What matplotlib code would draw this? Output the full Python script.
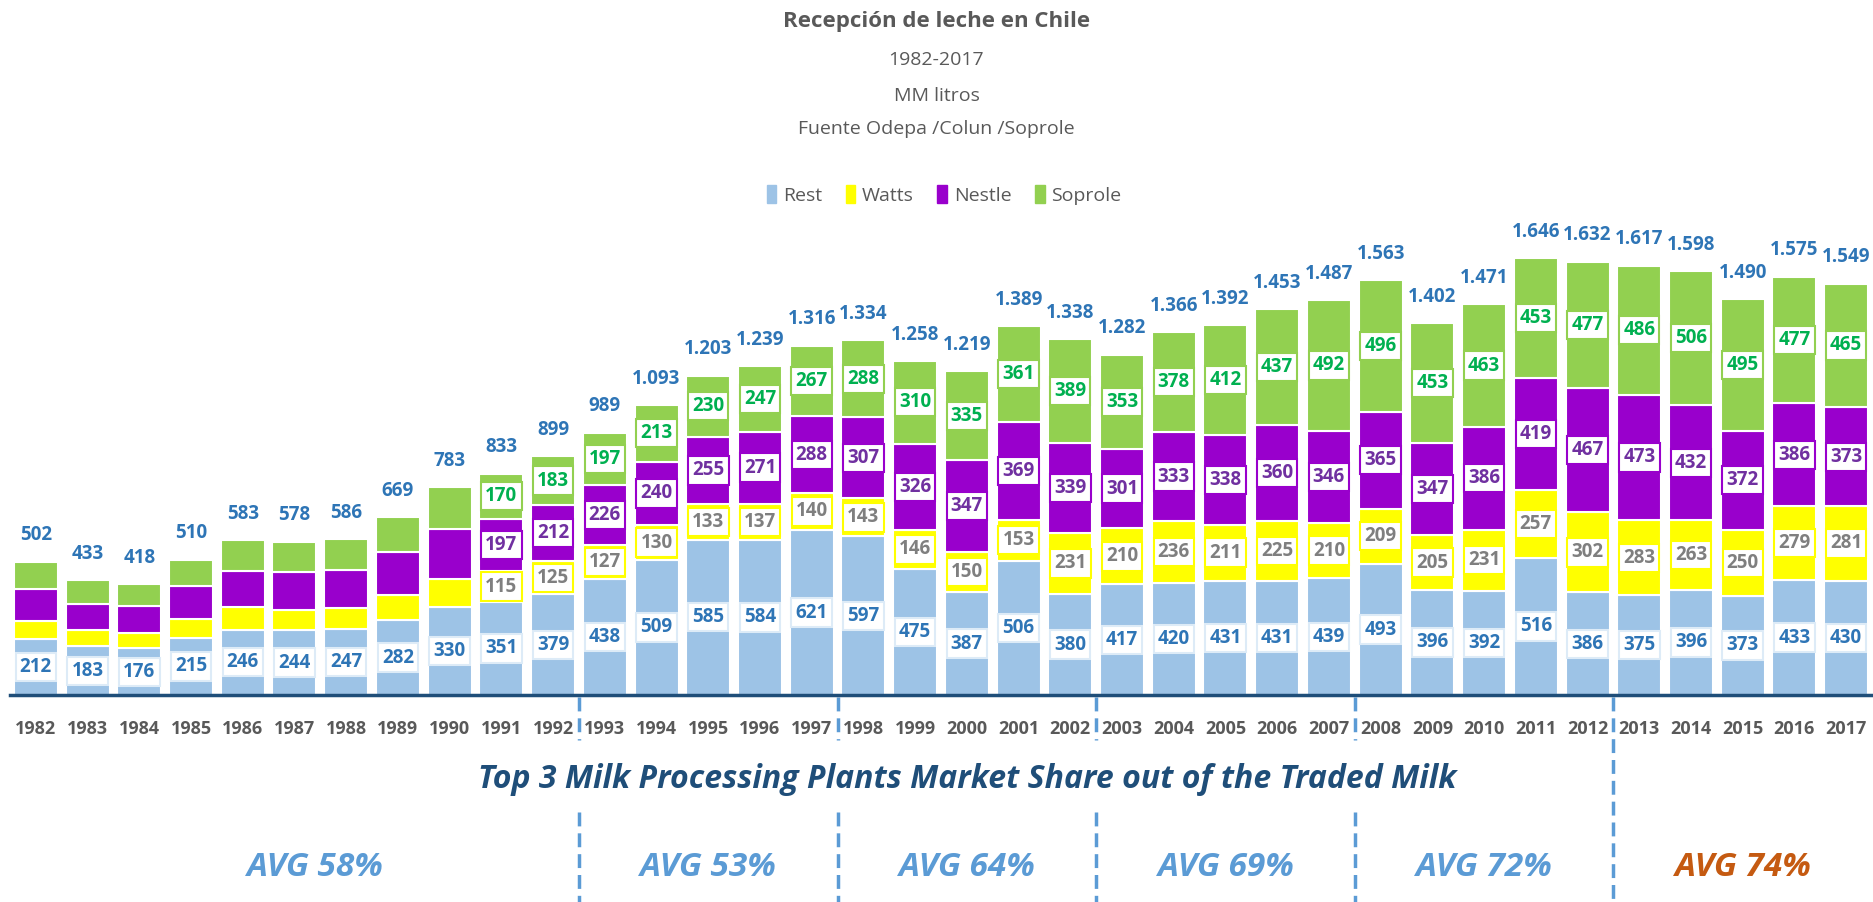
import matplotlib
matplotlib.use("Agg")
import matplotlib.pyplot as plt
from matplotlib.patches import Patch
from matplotlib.transforms import blended_transform_factory

plt.rcParams['font.family'] = ['Open Sans', 'DejaVu Sans']

years = [str(y) for y in range(1982, 2018)]

# MM litros
rest = [212, 183, 176, 215, 246, 244, 247, 282, 330, 351, 379,
        438, 509, 585, 584, 621, 597, 475, 387, 506, 380,
        417, 420, 431, 431, 439, 493, 396, 392, 516, 386,
        375, 396, 373, 433, 430]
watts = [68, 63, 58, 73, 84, 77, 82, 94, 108, 115, 125,
         127, 130, 133, 137, 140, 143, 146, 150, 153, 231,
         210, 236, 211, 225, 210, 209, 205, 231, 257, 302,
         283, 263, 250, 279, 281]
nestle = [120, 98, 100, 122, 136, 141, 142, 161, 186, 197, 212,
          226, 240, 255, 271, 288, 307, 326, 347, 369, 339,
          301, 333, 338, 360, 346, 365, 347, 386, 419, 467,
          473, 432, 372, 386, 373]
soprole = [102, 89, 84, 100, 117, 116, 115, 132, 159, 170, 183,
           197, 213, 230, 247, 267, 288, 310, 335, 361, 389,
           353, 378, 412, 437, 492, 496, 453, 463, 453, 477,
           486, 506, 495, 477, 465]
totals = [502, 433, 418, 510, 583, 578, 586, 669, 783, 833, 899,
          989, 1093, 1203, 1239, 1316, 1334, 1258, 1219, 1389, 1338,
          1282, 1366, 1392, 1453, 1487, 1563, 1402, 1471, 1646, 1632,
          1617, 1598, 1490, 1575, 1549]

# first year with labels on watts/nestle/soprole
first_labeled = 1991

period_breaks = [10.5, 15.5, 20.5, 25.5, 30.5]
avg_pos = [5.4, 13, 18, 23, 28, 33]
avg_labels = ['AVG 58%', 'AVG 53%', 'AVG 64%', 'AVG 69%', 'AVG 72%', 'AVG 74%']
avg_colors = ['#5B9BD5'] * 5 + ['#C55A11']

c_rest, c_watts, c_nestle, c_soprole = '#9DC3E6', '#FFFF00', '#9900CC', '#92D050'
txt_rest, txt_watts, txt_nestle, txt_soprole = '#2E75B6', '#7F7F7F', '#7030A0', '#00B050'
gray = '#595959'

W, H = 1873, 902
fig = plt.figure(figsize=(W / 100, H / 100), dpi=100)
ax = fig.add_axes([10 / W, 1 - 695 / H, 1862 / W, 495 / H])

x = list(range(len(years)))
bw = 0.85
b1 = rest
b2 = [a + b for a, b in zip(b1, watts)]
b3 = [a + b for a, b in zip(b2, nestle)]

ax.bar(x, rest, bw, color=c_rest, edgecolor='white', lw=1.5, zorder=2)
ax.bar(x, watts, bw, bottom=b1, color=c_watts, edgecolor='white', lw=1.5, zorder=2)
ax.bar(x, nestle, bw, bottom=b2, color=c_nestle, edgecolor='white', lw=1.5, zorder=2)
ax.bar(x, soprole, bw, bottom=b3, color=c_soprole, edgecolor='white', lw=1.5, zorder=2)


def box_label(xi, y, val, tc, ec):
    ax.text(xi, y, str(val), ha='center', va='center', color=tc,
            fontsize=13.5, fontweight='bold', zorder=5,
            bbox=dict(boxstyle='square,pad=0.22', fc='white', ec=ec, lw=1.5))


for i in x:
    box_label(i, rest[i] / 2, rest[i], txt_rest, '#DDEBF7')
    if int(years[i]) >= first_labeled:
        box_label(i, b1[i] + watts[i] / 2, watts[i], txt_watts, c_watts)
        box_label(i, b2[i] + nestle[i] / 2, nestle[i], txt_nestle, c_nestle)
        box_label(i, b3[i] + soprole[i] / 2, soprole[i], txt_soprole, c_soprole)
    ax.annotate(f"{totals[i]:,}".replace(',', '.'), (i, b3[i] + soprole[i]),
                xytext=(0, 19), textcoords='offset points', ha='center', va='center',
                color=txt_rest, fontsize=13.5, fontweight='bold')

ax.set_xlim(-0.5, 35.5)
ax.set_ylim(0, 1864)
for s in ['top', 'right', 'left']:
    ax.spines[s].set_visible(False)
ax.spines['bottom'].set_color('#1F4E79')
ax.spines['bottom'].set_linewidth(2.5)
ax.set_yticks([])
ax.set_xticks(x)
ax.set_xticklabels(years, fontsize=13, fontweight='bold', color=gray)
ax.tick_params(axis='x', length=0, pad=18)

# dashed separators below the axis
tr = blended_transform_factory(ax.transData, fig.transFigure)
for k, xb in enumerate(period_breaks):
    if k == len(period_breaks) - 1:
        ax.plot([xb, xb], [1 - 697 / H, 0], transform=tr, color='#5B9BD5',
                lw=2.5, ls=(0, (4, 2)), clip_on=False)
    else:
        ax.plot([xb, xb], [1 - 697 / H, 1 - 740 / H], transform=tr, color='#5B9BD5',
                lw=2.5, ls=(0, (4, 2)), clip_on=False)
        ax.plot([xb, xb], [1 - 812 / H, 0], transform=tr, color='#5B9BD5',
                lw=2.5, ls=(0, (4, 2)), clip_on=False)

ax.text(18, 1 - 780 / H, 'Top 3 Milk Processing Plants Market Share out of the Traded Milk',
        transform=tr, ha='center', va='center', fontsize=23, fontweight='bold',
        fontstyle='italic', color='#1F4E79')
for xp, lab, col in zip(avg_pos, avg_labels, avg_colors):
    ax.text(xp, 1 - 868 / H, lab, transform=tr, ha='center', va='center',
            fontsize=24, fontweight='bold', fontstyle='italic', color=col)

# titles
fig.text(0.5, 1 - 21 / H, 'Recepción de leche en Chile', ha='center', va='center',
         fontsize=16, fontweight='bold', color=gray)
fig.text(0.5, 1 - 60 / H, '1982-2017', ha='center', va='center', fontsize=14, color=gray)
fig.text(0.5, 1 - 96 / H, 'MM litros', ha='center', va='center', fontsize=14, color=gray)
fig.text(0.5, 1 - 129 / H, 'Fuente Odepa /Colun /Soprole', ha='center', va='center',
         fontsize=14, color=gray)

handles = [Patch(color=c_rest, label='Rest'), Patch(color=c_watts, label='Watts'),
           Patch(color=c_nestle, label='Nestle'), Patch(color=c_soprole, label='Soprole')]
leg = fig.legend(handles=handles, loc='center', bbox_to_anchor=(944 / W, 1 - 195 / H),
                 ncol=4, frameon=False, fontsize=14, handlelength=0.5, handleheight=1.0,
                 handletextpad=0.35, columnspacing=1.2)
for t in leg.get_texts():
    t.set_color(gray)

fig.savefig('out.png', dpi=100, facecolor='white')
